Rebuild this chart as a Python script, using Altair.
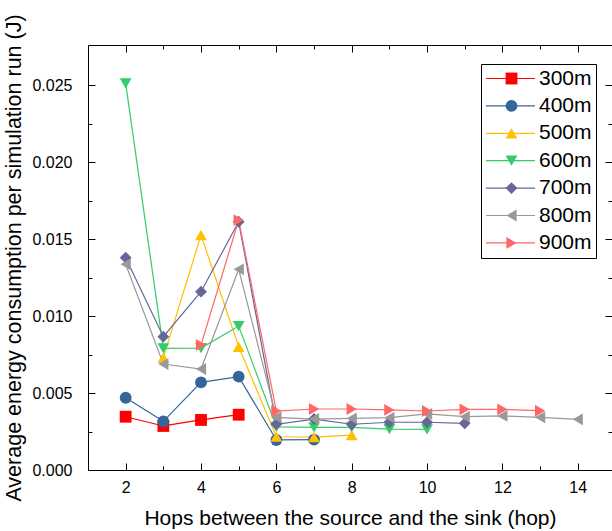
import altair as alt
import pandas as pd

series_names = ["300m", "400m", "500m", "600m", "700m", "800m", "900m"]
series_colors = ["#FF0000", "#336699", "#FFC000", "#33CC66", "#666699", "#999999", "#FF6666"]
series_shapes = ["square", "circle", "triangle-up", "triangle-down", "diamond", "triangle-left", "triangle-right"]

hops_300 = [2, 3, 4, 5]
energy_300 = [0.00346, 0.00286, 0.00325, 0.00359]

hops_400 = [2, 3, 4, 5, 6, 7]
energy_400 = [0.00469, 0.00316, 0.00569, 0.00606, 0.00195, 0.00197]

hops_500 = [3, 4, 5, 6, 7, 8]
energy_500 = [0.00730, 0.01526, 0.00800, 0.00216, 0.00214, 0.00227]

hops_600 = [2, 3, 4, 5, 6, 7, 8, 9, 10]
energy_600 = [0.02511, 0.00790, 0.00792, 0.00935, 0.00280, 0.00277, 0.00277, 0.00266, 0.00264]

hops_700 = [2, 3, 4, 5, 6, 7, 8, 9, 10, 11]
energy_700 = [0.01379, 0.00866, 0.01158, 0.01612, 0.00297, 0.00331, 0.00297, 0.00310, 0.00310, 0.00303]

hops_800 = [2, 3, 4, 5, 6, 7, 8, 9, 10, 11, 12, 13, 14]
energy_800 = [0.01336, 0.00688, 0.00656, 0.01303, 0.00342, 0.00331, 0.00335, 0.00340,
              0.00364, 0.00346, 0.00351, 0.00342, 0.00329]

hops_900 = [4, 5, 6, 7, 8, 9, 10, 11, 12, 13]
energy_900 = [0.00812, 0.01623, 0.00383, 0.00396, 0.00396, 0.00390, 0.00383, 0.00394, 0.00394, 0.00385]

x_major = [2, 4, 6, 8, 10, 12, 14]
x_minor = [3, 5, 7, 9, 11, 13]
y_major = [0.0, 0.005, 0.010, 0.015, 0.020, 0.025]
y_minor = [0.0025, 0.0075, 0.0125, 0.0175, 0.0225]

x_title = "Hops between the source and the sink (hop)"
y_title = "Average energy consumption per simulation run (J)"

all_hops = [hops_300, hops_400, hops_500, hops_600, hops_700, hops_800, hops_900]
all_energy = [energy_300, energy_400, energy_500, energy_600, energy_700, energy_800, energy_900]

rows = []
for name, hs, es in zip(series_names, all_hops, all_energy):
    for h, e in zip(hs, es):
        rows.append({"hop": h, "energy": e, "series": name, "series_pt": name})
df = pd.DataFrame(rows)

W, H = 524, 425
FONT = "Liberation Sans"

x_scale = alt.Scale(domain=[1, 14.91], nice=False, zero=False)
y_scale = alt.Scale(domain=[0, 0.0276], nice=False, zero=False)

lines = alt.Chart(df).mark_line(strokeWidth=1.2).encode(
    x=alt.X("hop:Q", scale=x_scale, title=x_title,
            axis=alt.Axis(orient="bottom", values=x_major, format="d", ticks=False, tickSize=0,
                          labelFontSize=16, labelPadding=9, labelFlush=False,
                          domain=True, domainColor="black", domainWidth=1, grid=False,
                          titleFontSize=21, titlePadding=12)),
    y=alt.Y("energy:Q", scale=y_scale, title=y_title,
            axis=alt.Axis(orient="left", values=y_major, format=".3f", ticks=False, tickSize=0,
                          labelFontSize=16, labelPadding=16, labelFlush=False,
                          domain=True, domainColor="black", domainWidth=1, grid=False,
                          titleFontSize=21.5, titlePadding=6)),
    stroke=alt.Stroke("series:N", scale=alt.Scale(range=series_colors),
                      legend=alt.Legend(orient="none", legendX=393, legendY=19, title=None,
                                        symbolType="stroke", symbolSize=2401, symbolStrokeWidth=1.2,
                                        labelFontSize=21, labelFont=FONT, labelOffset=3,
                                        clipHeight=21, rowPadding=5.4, padding=4,
                                        strokeColor="black", labelLimit=0)),
)

pt_legend = alt.Legend(orient="none", legendX=409, legendY=19, title=None,
                       symbolSize=140, symbolStrokeWidth=0, symbolOpacity=1,
                       labelFontSize=21, labelFont=FONT, labelExpr="''", labelOffset=3,
                       clipHeight=21, rowPadding=5.4, padding=4, labelLimit=0)

points = alt.Chart(df).mark_point(filled=True, size=140, opacity=1).encode(
    x=alt.X("hop:Q", scale=x_scale, axis=None),
    y=alt.Y("energy:Q", scale=y_scale, axis=None),
    fill=alt.Fill("series_pt:N", scale=alt.Scale(range=series_colors), legend=pt_legend),
    shape=alt.Shape("series_pt:N", scale=alt.Scale(range=series_shapes), legend=pt_legend),
)


def frame_layer(xaxis, yaxis):
    return alt.Chart(df).mark_point(opacity=0).encode(
        x=alt.X("hop:Q", scale=x_scale, title=None, axis=xaxis),
        y=alt.Y("energy:Q", scale=y_scale, title=None, axis=yaxis),
    )


def tick_axis(orient, offset, values, size, domain):
    return alt.Axis(orient=orient, offset=offset, values=values, ticks=True, tickSize=size,
                    tickColor="black", tickWidth=1, labels=False, domain=domain,
                    domainColor="black", domainWidth=1, grid=False)


# inward ticks on the bottom and left edges
f1 = frame_layer(tick_axis("top", -H, x_major, 7, False), tick_axis("right", -W, y_major, 7, False))
f2 = frame_layer(tick_axis("top", -H, x_minor, 4, False), tick_axis("right", -W, y_minor, 4, False))
# inward ticks on the top and right edges (top edge carries the frame line)
f3 = frame_layer(tick_axis("bottom", -H, x_major, 7, True), tick_axis("left", -W, y_major, 7, False))
f4 = frame_layer(tick_axis("bottom", -H, x_minor, 4, False), tick_axis("left", -W, y_minor, 4, False))

chart = alt.layer(lines, points, f1, f2, f3, f4).resolve_axis(
    x="independent", y="independent"
).properties(
    width=W, height=H,
    padding={"left": 88, "top": 45, "right": 0, "bottom": 61},
    autosize=alt.AutoSizeParams(type="none"),
    background="white",
).configure_view(stroke=None).configure_axis(
    labelFont=FONT, titleFont=FONT, labelColor="black", titleColor="black",
    titleFontWeight="normal",
).configure_legend(labelColor="black")

chart.save("out.html", embed_options={"renderer": "svg", "actions": False})
